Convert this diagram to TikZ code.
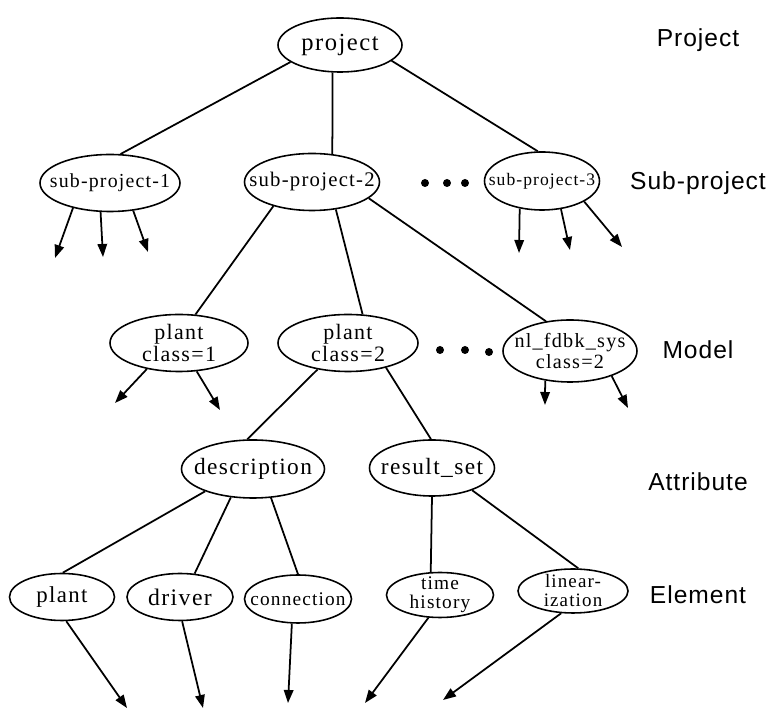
\documentclass[tikz,border=0pt]{standalone}
\usepackage{fontspec}
\setmainfont{Liberation Serif}[LetterSpace=6.0]
\newfontfamily\levelfont{Liberation Sans}[LetterSpace=4.0]
\usetikzlibrary{arrows.meta}
\usetikzlibrary{shapes.geometric}
\tikzset{>={Triangle[length=2.6mm,width=1.9mm]}}
\tikzset{
  entity/.style={draw, ellipse, line width=0.9pt, inner xsep=-12pt, inner ysep=-3pt, align=center},
  fs/.style={font=\fontsize{#1}{#1}\selectfont},
  level/.style={font=\levelfont\fontsize{14}{16}\selectfont},
  tree/.style={line width=1pt},
}

\begin{document}
\begin{tikzpicture}
            \useasboundingbox (0,0) rectangle (15.46,14.2);
            \node[entity, fs=14, minimum width=2.48cm, minimum height=1.08cm] (project) at (6.8,13.3) {project};
            \node[entity, fs=11.3, minimum width=2.8cm, minimum height=1.14cm] (sp1) at (2.2,10.54) {sub-project-1};
            \node[entity, fs=11.8, minimum width=2.7cm, minimum height=1.14cm] (sp2) at (6.24,10.56) {sub-project-2};
            \node[entity, fs=10, minimum width=2.3cm, minimum height=1.16cm] (sp3) at (10.84,10.58) {sub-project-3};
            \node[entity, fs=12.5, minimum width=2.76cm, minimum height=1.14cm] (pc1) at (3.58,7.34) {plant\\class=1};
            \node[entity, fs=12.5, minimum width=2.8cm, minimum height=1.14cm] (pc2) at (6.96,7.34) {plant\\class=2};
            \node[entity, fs=11.5, minimum width=2.68cm, minimum height=1.24cm] (nl) at (11.4,7.18) {nl\_fdbk\_sys\\class=2};
            \node[entity, fs=13.3, minimum width=2.86cm, minimum height=1.16cm] (desc) at (5.06,4.82) {description};
            \node[entity, fs=13.3, minimum width=2.5cm, minimum height=1.12cm] (rs) at (8.64,4.84) {result\_set};
            \node[entity, fs=13, minimum width=2.1cm, minimum height=0.94cm] (plant) at (1.24,2.26) {plant};
            \node[entity, fs=13.5, minimum width=2.12cm, minimum height=0.94cm] (driver) at (3.6,2.26) {driver};
            \node[entity, fs=11, minimum width=2.14cm, minimum height=0.96cm] (conn) at (5.96,2.22) {connection};
            \node[entity, fs=11, minimum width=2.14cm, minimum height=0.9cm] (th) at (8.8,2.3) {time\\history};
            \node[entity, fs=10.8, minimum width=2.2cm, minimum height=0.88cm] (lin) at (11.46,2.38) {linear-\\ization};
            \foreach \y/\t in {13.4/Project, 10.54/Sub-project, 7.2/Model, 4.56/Attribute, 2.3/Element} {
                \node[level] (lvl-\t) at (13.96,\y) {\t};
            }
            \foreach \a/\b in {project.199/sp1.70, project.255/sp2.54, project.343/sp3.98,
                sp2.212/pc1.60, sp2.311/pc2.63, sp2.344/nl.129, pc2.221/desc.101, pc2.327/rs.92,
                desc.205/plant.88, desc.232/driver.58, desc.302/conn.north, rs.south/th.112, rs.331/lin.77} {
                \draw[tree] (\a) -- (\b);
            }
            \foreach \a/\b/\x/\y in {sp1.214/e1/1.10/9.04, sp1.252/e2/2.06/9.06, sp1.310/e3/2.96/9.16,
                sp3.231/e4/10.38/9.14, sp3.304/e5/11.40/9.20, sp3.334/e6/12.44/9.26,
                pc1.219/e7/2.30/6.14, pc1.302/e8/4.40/6.00, nl.230/e9/10.90/6.10, nl.329/e10/12.56/6.04,
                plant.280/e11/2.54/0.04, driver.275/e12/4.06/0.04, conn.256/e13/5.76/0.14,
                th.243/e14/7.30/0.14, lin.242/e15/8.86/0.20} {
                \coordinate (\b) at (\x,\y);
                \draw[tree, ->] (\a) -- (\b);
            }
            \foreach \x/\y in {8.5/10.54, 8.94/10.54, 9.3/10.54, 8.8/7.2, 9.3/7.2, 9.78/7.16} {
                \fill (\x,\y) circle [radius=0.08];
            }
        \end{tikzpicture}
\end{document}
